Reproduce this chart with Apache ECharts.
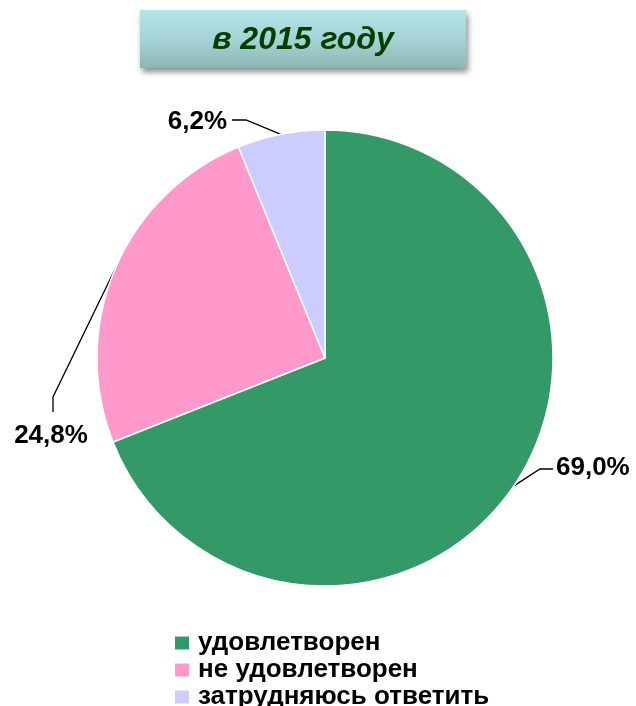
<!DOCTYPE html>
<html>
<head>
<meta charset="utf-8">
<script src="https://cdn.jsdelivr.net/npm/echarts@6/dist/echarts.min.js"></script>
<style>html,body{margin:0;padding:0;background:#fff}#c{width:636px;height:706px}</style>
</head>
<body>
<div id="c"></div>
<script>
const titleText = 'в 2015 году';
const categories = ['удовлетворен', 'не удовлетворен', 'затрудняюсь ответить'];
const values = [69.0, 24.8, 6.2];
const colors = ['#339966', '#ff99cc', '#ccccff'];

// label placement (layout only)
const labelPos = [
  { x: 556, y: 468, align: 'left', elbow: [540, 469], end: [553, 469] },
  { x: 51, y: 436, align: 'center', elbow: [53, 397], end: [53, 412] },
  { x: 227, y: 122, align: 'right', elbow: [246, 120], end: [232, 120] }
];

const FONT = 'Liberation Sans, Arial, sans-serif';
const chart = echarts.init(document.getElementById('c'), null, { renderer: 'canvas' });
chart.setOption({
  animation: false,
  graphic: [{
    type: 'rect',
    shape: { x: 140, y: 10, width: 326, height: 58 },
    style: {
      fill: new echarts.graphic.LinearGradient(0, 0, 0, 1, [
        { offset: 0, color: '#b6e3e8' },
        { offset: 0.5, color: '#a6d3d6' },
        { offset: 1, color: '#8db7b4' }
      ]),
      shadowBlur: 6,
      shadowOffsetX: 2,
      shadowOffsetY: 4,
      shadowColor: 'rgba(0,0,0,0.45)'
    },
    z: 0
  }, {
    type: 'text',
    z: 5,
    style: {
      text: titleText,
      x: 303,
      y: 40,
      align: 'center',
      verticalAlign: 'middle',
      font: 'italic bold 32px ' + FONT,
      fill: '#004000'
    }
  }],
  legend: {
    orient: 'vertical',
    left: 173,
    top: 630,
    height: 90,
    padding: 0,
    itemWidth: 16,
    itemHeight: 15,
    itemGap: 1,
    icon: 'rect',
    data: categories,
    textStyle: {
      fontFamily: FONT,
      fontSize: 26,
      fontWeight: 'bold',
      color: '#000',
      lineHeight: 25,
      padding: [0, 0, 0, 3]
    }
  },
  series: [{
    type: 'pie',
    center: [325, 358],
    radius: [0, 228],
    startAngle: 90,
    clockwise: true,
    avoidLabelOverlap: false,
    data: categories.map((n, i) => ({ name: n, value: values[i], itemStyle: { color: colors[i] } })),
    itemStyle: { borderColor: '#ffffff', borderWidth: 1.5 },
    label: {
      show: true,
      position: 'outside',
      formatter: p => p.value.toFixed(1).replace('.', ',') + '%',
      fontFamily: FONT,
      fontSize: 26,
      fontWeight: 'bold',
      color: '#000'
    },
    labelLine: { show: true, length: 15, length2: 10, smooth: false, lineStyle: { color: '#000', width: 1.3 } },
    labelLayout: function (params) {
      const lp = labelPos[params.dataIndex];
      const start = params.labelLinePoints ? params.labelLinePoints[0] : null;
      const res = { x: lp.x, y: lp.y, align: lp.align, verticalAlign: 'middle' };
      if (start) res.labelLinePoints = [start, lp.elbow, lp.end];
      return res;
    },
    emphasis: { disabled: true }
  }]
});
</script>
</body>
</html>
